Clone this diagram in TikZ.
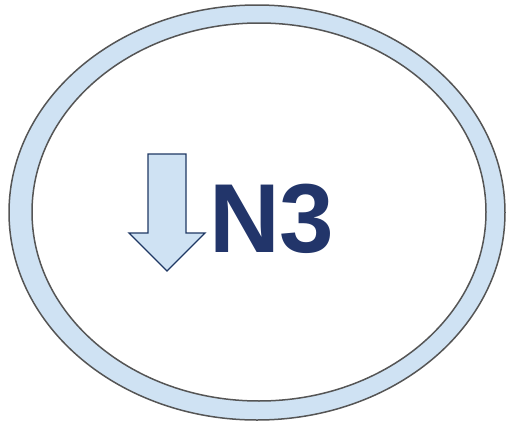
\documentclass[tikz,border=0pt]{standalone}
\usepackage{fontspec}
\setmainfont{Liberation Sans}
\definecolor{ringfill}{HTML}{CFE2F3}
\definecolor{ringline}{HTML}{555555}
\definecolor{navy}{HTML}{22356A}
\definecolor{arrline}{HTML}{1F3864}
\begin{document}
\begin{tikzpicture}[x=1pt,y=-1pt,
  ringstyle/.style={draw=ringline,line width=1.5pt},
  arrowshape/.style={draw=arrline,fill=ringfill,line width=1.3pt,line join=miter},
  labelstyle/.style={text=navy,font=\fontsize{98}{98}\selectfont\bfseries,inner sep=0pt,anchor=base west}]
\useasboundingbox (0,0) rectangle (506,423);
\fill[ringfill,even odd rule] (257,212.5) ellipse [x radius=248,y radius=207.5]
  (259,212) ellipse [x radius=227,y radius=189];
\draw[ringstyle] (257,212.5) ellipse [x radius=248,y radius=207.5];
\draw[ringstyle] (259,212) ellipse [x radius=227,y radius=189];
\draw[arrowshape] (148,154) -- (186,154) -- (186,233) -- (205,233) -- (167,271) -- (129,233) -- (148,233) -- cycle;
\node[labelstyle] (lbl) at (209,252) {N3};
\end{tikzpicture}
\end{document}
